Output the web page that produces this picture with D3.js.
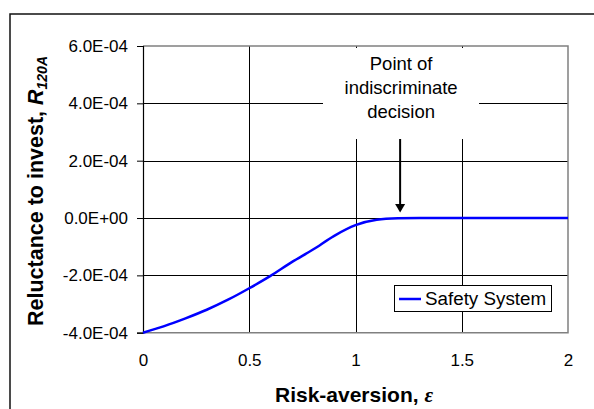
<!DOCTYPE html>
<html>
<head>
<meta charset="utf-8">
<script src="https://cdn.jsdelivr.net/npm/d3@7"></script>
<style>
  html, body { margin: 0; padding: 0; background: #fff; }
  svg { display: block; font-family: "Liberation Sans", Arial, sans-serif; }
</style>
</head>
<body>
<svg id="chart" width="594" height="409"></svg>
<script>
// ---- Data ----
const riskAversion = [0, 0.1, 0.2, 0.3, 0.4, 0.5, 0.6, 0.7, 0.8, 0.9, 1.0, 1.1, 1.2, 1.3, 1.4, 1.5, 1.6, 1.7, 1.8, 1.9, 2.0];
const reluctance = [-4.00e-4, -3.77e-4, -3.50e-4, -3.20e-4, -2.85e-4, -2.45e-4, -2.02e-4, -1.54e-4, -1.10e-4, -0.62e-4,
                    -0.25e-4, -0.06e-4, -0.01e-4, 0, 0, 0, 0, 0, 0, 0, 0];
const seriesName = "Safety System";
const xTicks = [0, 0.5, 1, 1.5, 2];
const xTickLabels = ["0", "0.5", "1", "1.5", "2"];
const yTicks = [-4e-4, -2e-4, 0, 2e-4, 4e-4, 6e-4];
const yTickLabels = ["-4.0E-04", "-2.0E-04", "0.0E+00", "2.0E-04", "4.0E-04", "6.0E-04"];
const annotationLines = ["Point of", "indiscriminate", "decision"];
const annotationX = 1.21;

const svg = d3.select("#chart");
const x = d3.scaleLinear().domain([0, 2]).range([143, 568]);
const y = d3.scaleLinear().domain([-4e-4, 6e-4]).range([332.7, 46]);

// outer frame
svg.append("rect").attr("x", 10).attr("y", 14).attr("width", 590).attr("height", 410)
  .attr("fill", "none").attr("stroke", "#111").attr("stroke-width", 1.5);

// gridlines
svg.append("g").selectAll("line").data(yTicks.filter(d => d > -4e-4 && d < 6e-4)).join("line")
  .attr("x1", x(0)).attr("x2", x(2))
  .attr("y1", d => Math.round(y(d)) + 0.5).attr("y2", d => Math.round(y(d)) + 0.5)
  .attr("stroke", "#000").attr("stroke-width", 1);
svg.append("g").selectAll("line").data(xTicks.filter(d => d > 0 && d < 2)).join("line")
  .attr("x1", d => Math.round(x(d)) + 0.5).attr("x2", d => Math.round(x(d)) + 0.5)
  .attr("y1", y(6e-4)).attr("y2", y(-4e-4))
  .attr("stroke", "#000").attr("stroke-width", 1);

// annotation white box
svg.append("rect").attr("x", 323).attr("y", 48).attr("width", 156).attr("height", 91).attr("fill", "#fff");

// plot border (gray) top/right/bottom
svg.append("path")
  .attr("d", `M${x(0)},${y(6e-4)}H${x(2)}V${y(-4e-4)}H${x(0)}`)
  .attr("fill", "none").attr("stroke", "#808080").attr("stroke-width", 1.5);

// y axis
const yAxis = d3.axisLeft(y).tickValues(yTicks).tickSize(6).tickPadding(9)
  .tickFormat((d, i) => yTickLabels[i]);
const gy = svg.append("g").attr("transform", `translate(${x(0)},0)`).call(yAxis);
gy.select(".domain").attr("stroke", "#000").attr("stroke-width", 1.2);
gy.selectAll(".tick line").attr("stroke", "#000");
gy.selectAll(".tick text").attr("font-size", 17).attr("fill", "#000")
  .attr("font-family", "Liberation Sans, Arial, sans-serif");

// x axis labels (no tick marks)
const xAxis = d3.axisBottom(x).tickValues(xTicks).tickSize(0).tickPadding(21)
  .tickFormat((d, i) => xTickLabels[i]);
const gx = svg.append("g").attr("transform", `translate(0,${y(-4e-4)})`).call(xAxis);
gx.select(".domain").remove();
gx.selectAll(".tick text").attr("font-size", 17).attr("fill", "#000")
  .attr("font-family", "Liberation Sans, Arial, sans-serif");

// series line
const line = d3.line().x((d, i) => x(riskAversion[i])).y(d => y(d)).curve(d3.curveMonotoneX);
svg.append("path").datum(reluctance).attr("d", line)
  .attr("fill", "none").attr("stroke", "#0000ff").attr("stroke-width", 2.5);

// annotation text
const ax = x(annotationX);
const at = svg.append("text").attr("text-anchor", "middle").attr("font-size", 18.5).attr("fill", "#000");
annotationLines.forEach((t, i) => {
  at.append("tspan").attr("x", ax + 1).attr("y", 70 + i * 24).text(t);
});
// arrow
svg.append("line").attr("x1", ax).attr("x2", ax).attr("y1", 139).attr("y2", 205)
  .attr("stroke", "#000").attr("stroke-width", 2);
svg.append("path").attr("d", `M${ax - 5},${204}L${ax + 5},${204}L${ax},${y(0) - 5.5}Z`).attr("fill", "#000");

// legend
const lg = svg.append("g");
lg.append("rect").attr("x", 394.5).attr("y", 285.5).attr("width", 157).attr("height", 26)
  .attr("fill", "#fff").attr("stroke", "#000").attr("stroke-width", 1);
lg.append("line").attr("x1", 399).attr("x2", 421).attr("y1", 299).attr("y2", 299)
  .attr("stroke", "#0000ff").attr("stroke-width", 2.5);
lg.append("text").attr("x", 425).attr("y", 305).attr("font-size", 18.8).attr("fill", "#000").text(seriesName);

// axis titles
const xt = svg.append("text").attr("x", 354).attr("y", 401.5).attr("text-anchor", "middle")
  .attr("font-size", 21).attr("font-weight", "bold").attr("fill", "#000");
xt.append("tspan").text("Risk-aversion, ");
xt.append("tspan").attr("font-style", "italic").attr("font-family", "Liberation Serif, serif").text("ε");

const yt = svg.append("text").attr("transform", `translate(43,${191}) rotate(-90)`).attr("text-anchor", "middle")
  .attr("font-size", 21.5).attr("font-weight", "bold").attr("fill", "#000");
yt.append("tspan").text("Reluctance to invest, ");
yt.append("tspan").attr("font-style", "italic").text("R");
yt.append("tspan").attr("font-style", "italic").attr("font-size", 14).attr("dy", 4).text("120A");
</script>
</body>
</html>
